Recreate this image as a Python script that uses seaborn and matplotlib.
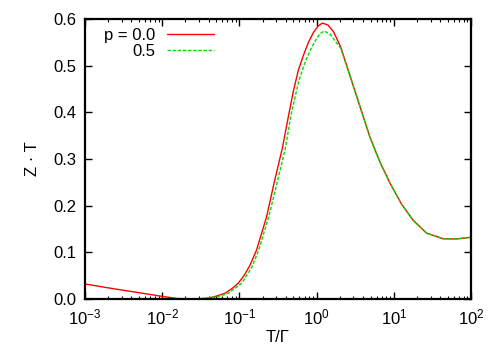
import numpy as np
import pandas as pd
import seaborn as sns
import matplotlib
matplotlib.use("Agg")
import matplotlib.pyplot as plt
from matplotlib.ticker import LogLocator, NullFormatter

# values
t_p00 = [0.001, 0.0023, 0.0063, 0.0103, 0.0154, 0.023, 0.035, 0.046, 0.065, 0.083,
         0.097, 0.115, 0.137, 0.167, 0.225, 0.281, 0.36, 0.43, 0.5, 0.58, 0.675,
         0.785, 0.91, 1.05, 1.19, 1.4, 1.65, 2.05, 2.71, 3.65, 4.92, 6.63, 8.93,
         12.6, 17.9, 26.6, 43.8, 65.0, 100.0]
z_p00 = [0.032, 0.022, 0.0107, 0.005, 0.001, 0.0, 0.0005, 0.004, 0.012, 0.024,
         0.034, 0.05, 0.072, 0.105, 0.176, 0.248, 0.323, 0.39, 0.445, 0.49, 0.522,
         0.55, 0.571, 0.585, 0.591, 0.587, 0.573, 0.54, 0.478, 0.412, 0.346, 0.293, 0.248,
         0.203, 0.168, 0.141, 0.1288, 0.1285, 0.132]

t_p05 = [0.015, 0.03, 0.051, 0.072, 0.108, 0.146, 0.178, 0.24, 0.307, 0.394, 0.466,
         0.585, 0.72, 0.85, 1.0, 1.12, 1.26, 1.5, 2.05, 2.71, 3.65, 4.92, 6.63, 8.93,
         12.6, 17.9, 26.6, 43.8, 65.0, 100.0]
z_p05 = [0.0, 0.0005, 0.004, 0.012, 0.034, 0.069, 0.105, 0.176, 0.248, 0.323, 0.394,
         0.466, 0.51, 0.537, 0.558, 0.569, 0.574, 0.567, 0.537, 0.478, 0.412, 0.346, 0.293,
         0.248, 0.203, 0.168, 0.141, 0.1288, 0.1285, 0.132]

legend_labels = ["p = 0.0", "0.5"]

sns.set_theme(style="ticks")
plt.rcParams["font.family"] = ["Liberation Sans", "DejaVu Sans"]
plt.rcParams["mathtext.fontset"] = "custom"
plt.rcParams["mathtext.rm"] = "Liberation Sans"
plt.rcParams["mathtext.it"] = "Liberation Sans"
plt.rcParams["text.color"] = "black"
plt.rcParams["axes.labelcolor"] = "black"

df_a = pd.DataFrame({"T": t_p00, "Z": z_p00})
df_b = pd.DataFrame({"T": t_p05, "Z": z_p05})

fig = plt.figure(figsize=(5, 3.5), dpi=100)
ax = fig.add_axes([0.17, 0.146, 0.772, 0.80])

sns.lineplot(data=df_a, x="T", y="Z", ax=ax, color="#ff0000", lw=1.0,
             label=legend_labels[0], sort=False)
sns.lineplot(data=df_b, x="T", y="Z", ax=ax, color="#00e000", lw=1.0,
             ls=(0, (2.5, 1.2)), label=legend_labels[1], sort=False)

ax.set_xscale("log")
ax.set_xlim(1e-3, 1e2)
ax.set_ylim(0, 0.6)
ax.set_yticks(np.arange(0, 0.61, 0.1))
ax.set_yticklabels([f"{v:.1f}" for v in np.arange(0, 0.61, 0.1)])
ax.xaxis.set_major_locator(LogLocator(base=10, numticks=10))
ax.xaxis.set_minor_locator(LogLocator(base=10, subs=np.arange(2, 10), numticks=20))
ax.xaxis.set_minor_formatter(NullFormatter())

ax.tick_params(which="both", direction="in", top=True, right=True,
               labelsize=12, colors="black", pad=6)
ax.tick_params(which="major", length=5, width=1.0)
ax.tick_params(which="minor", length=2.5, width=0.8)
for s in ax.spines.values():
    s.set_linewidth(1.6)
    s.set_color("black")

ax.set_xlabel("T/Γ", fontsize=12, labelpad=2)
ax.set_ylabel("Z · T", fontsize=12, labelpad=10)

ax.legend(loc="upper left", bbox_to_anchor=(0.02, 1.01), frameon=False,
          markerfirst=False, fontsize=12, handlelength=2.8,
          handletextpad=0.7, labelspacing=0.05, borderaxespad=0.3)

fig.savefig("out.png", dpi=100)
